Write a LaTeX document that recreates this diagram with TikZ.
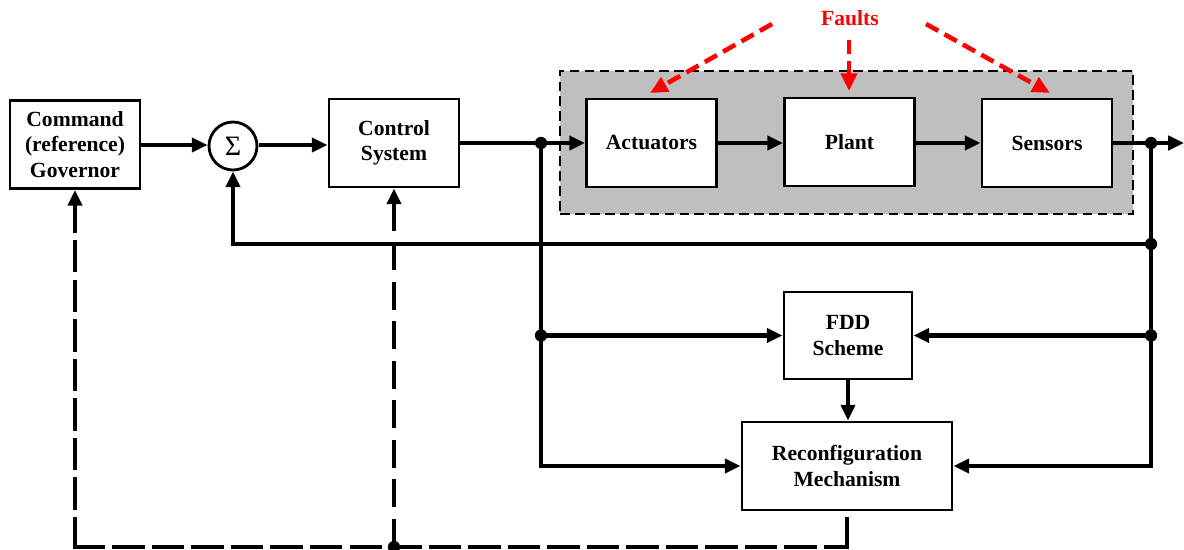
\documentclass[tikz,border=0pt]{standalone}
\usepackage{fontspec}
\setmainfont{Liberation Serif}
\usetikzlibrary{arrows.meta}
\begin{document}
\begin{tikzpicture}[x=0.02cm,y=-0.02cm,
 blk/.style={draw, line width=1.6pt, fill=white, inner sep=0pt, font=\bfseries\fontsize{12.3}{14.5}\selectfont, align=center, minimum width=2.6cm, minimum height=1.76cm},
 ln/.style={line width=2.5pt},
 tip/.style={-{Triangle[length=9pt,width=8pt]}},
 arr/.style={ln, tip},
 dotc/.style={circle, fill, inner sep=0pt, minimum size=7pt},
 dsh/.style={line width=2.5pt, dash pattern=on 16pt off 6.5pt},
 fault/.style={red, line width=2.6pt, dash pattern=on 8pt off 4pt, -{Triangle[length=10pt,width=9pt]}}]
\useasboundingbox (0,0) rectangle (1184,550);
% gray region
\node[draw, fill=gray!50, line width=1.6pt, dash pattern=on 5.5pt off 3pt, minimum width=11.46cm, minimum height=2.86cm, inner sep=0pt] (grp) at (846.5,142.5) {};
% blocks
\node[blk] (gov) at (75,144.5) {Command\\(reference)\\Governor};
\node[draw, circle, line width=1.6pt, minimum size=0.96cm, inner sep=0pt, font=\fontsize{16}{16}\selectfont] (sum) at (233,146) {Σ};
\node[blk] (ctrl) at (394,143) {Control\\System};
\node[blk] (act) at (651.5,143) {Actuators};
\node[blk] (plant) at (849.5,142) {Plant};
\node[blk] (sens) at (1047,143) {Sensors};
\node[blk, minimum width=2.56cm, minimum height=1.74cm] (fdd) at (848,335.5) {FDD\\Scheme};
\node[blk, minimum width=4.2cm, minimum height=1.76cm] (rec) at (847,466) {Reconfiguration\\Mechanism};
% faults
\node[red, font=\bfseries\fontsize{12.3}{14}\selectfont] (faults) at (850,18) {Faults};
\coordinate (fs1) at (772,24); \coordinate (fe1) at (650,93);
\coordinate (fs2) at (849,40); \coordinate (fe2) at (849,91);
\coordinate (fs3) at (926,24); \coordinate (fe3) at (1050,93);
\draw[fault] (fs1) -- (fe1);
\draw[fault] (fs2) -- (fe2);
\draw[fault] (fs3) -- (fe3);
% junctions
\coordinate (j1) at (541,143);
\coordinate (j2) at (1151,143);
\coordinate (j3) at (1151,244);
\coordinate (j4) at (541,335.5);
\coordinate (j5) at (1151,335.5);
\coordinate (cL) at (541,466);
\coordinate (cR) at (1151,466);
\coordinate (out) at (1184,143);
\coordinate (fbL) at (233,244);
\coordinate (dR) at (847,547);
\coordinate (dM) at (394,547);
\coordinate (dL) at (75,547);
\coordinate (a1) at (141,145);
\coordinate (a2) at (259,145);
% main path
\draw[arr] (a1) -- (sum.west |- a1);
\draw[arr] (a2) -- (ctrl.west |- a2);
\draw[ln] (ctrl.east |- j1) -- (j1);
\draw[arr] (j1) -- (act.west);
\draw[arr] (act.east) -- (plant.west |- act.east);
\draw[arr] (plant.east |- sens.west) -- (sens.west);
\draw[arr] (sens.east) -- (out);
% feedback
\draw[arr] (j2) -- (cR) -- (rec.east);
\draw[arr] (j3) -- (fbL) -- (sum.south);
\draw[arr] (j1) -- (cL) -- (rec.west);
\draw[arr] (j4) -- (fdd.west);
\draw[arr] (j5) -- (fdd.east);
\draw[arr] (fdd.south) -- (rec.north -| fdd.south);
% dashed reconfiguration
\draw[dsh, line cap=rect] (dR) -- (rec.south);
\draw[dsh, line cap=rect] (dL) -- (dR);
\draw[dsh, line cap=rect, tip] (dL) -- (gov.south);
\draw[dsh, tip] (dM) -- (ctrl.south);
% dots
\foreach \p in {j1,j2,j3,j4,j5,dM} \node[dotc] at (\p) {};
\end{tikzpicture}
\end{document}
